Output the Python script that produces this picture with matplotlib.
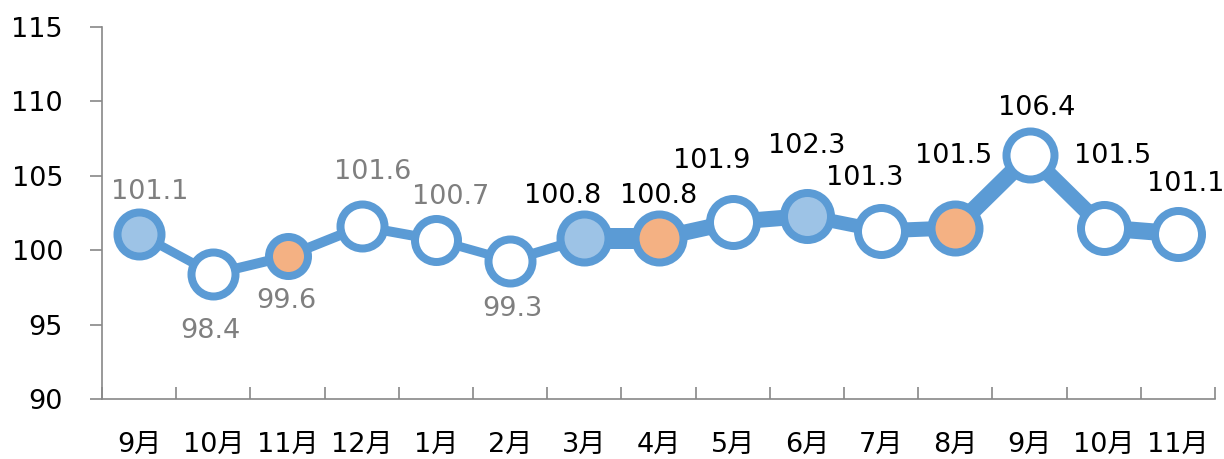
import matplotlib.pyplot as plt
from matplotlib.ticker import FixedLocator

# data
months = ["9月", "10月", "11月", "12月", "1月", "2月", "3月", "4月",
          "5月", "6月", "7月", "8月", "9月", "10月", "11月"]
values = [101.1, 98.4, 99.6, 101.6, 100.7, 99.3, 100.8, 100.8,
          101.9, 102.3, 101.3, 101.5, 106.4, 101.5, 101.1]
# which markers are filled: 0 = white, 1 = light blue, 2 = orange
highlight = [1, 0, 2, 0, 0, 0, 1, 2, 0, 1, 0, 2, 0, 0, 0]

# styling
BLUE = "#5B9BD5"
FILLS = {0: "white", 1: "#9DC3E6", 2: "#F4B183"}
PX = 0.72  # points per pixel at dpi 100
seg_width_px = [9, 10, 10, 10, 9, 10, 21, 16, 16, 14, 15, 17, 16, 17]
marker_outer_px = [52, 52, 47, 52, 51, 52, 56, 56, 55, 55, 55, 56, 56, 55, 55]
edge_px = 8
# label offsets in pixels (dx, dy) from the marker centre
label_offsets = [(11, 42), (-3, -57), (-1, -45), (11, 54), (15, 43), (2, -48),
                 (-22, 42), (0, 42), (-21, 61), (0, 70), (-16, 53), (-2, 72),
                 (7, 47), (9, 72), (8, 50)]

plt.rcParams['font.family'] = ['DejaVu Sans', 'Noto Sans CJK JP']
FS = 19.5

fig = plt.figure(figsize=(12.24, 4.59), dpi=100)
ax = fig.add_axes([102 / 1224, 1 - 399 / 459, (1215 - 102) / 1224, (399 - 27) / 459])

x = list(range(len(values)))

# line segments with varying width
for i in range(len(values) - 1):
    ax.plot(x[i:i + 2], values[i:i + 2], color=BLUE,
            linewidth=seg_width_px[i] * PX, solid_capstyle="butt", zorder=2)

# markers
for i, v in enumerate(values):
    ax.plot(x[i], v, marker="o", linestyle="none",
            markersize=(marker_outer_px[i] - edge_px) * PX,
            markeredgewidth=edge_px * PX, markeredgecolor=BLUE,
            markerfacecolor=FILLS[highlight[i]], zorder=3)

# data labels
for i, v in enumerate(values):
    dx, dy = label_offsets[i]
    ax.annotate(f"{v:.1f}", (x[i], v), xytext=(dx, dy), textcoords="offset pixels",
                ha="center", va="center", fontsize=FS,
                color="#7F7F7F" if i < 6 else "black", zorder=4)

ax.set_xlim(-0.5, len(values) - 0.5)
ax.set_ylim(90, 115)
ax.set_yticks([90, 95, 100, 105, 110, 115])
ax.tick_params(axis="y", direction="out", length=9, width=1.2, color="#888888",
               labelsize=FS, pad=19)

# x: ticks at category boundaries, labels at centres
ax.xaxis.set_major_locator(FixedLocator([i - 0.5 for i in range(len(values) + 1)]))
ax.xaxis.set_major_formatter(plt.NullFormatter())
ax.xaxis.set_minor_locator(FixedLocator(x))
ax.set_xticklabels(months, minor=True)
ax.tick_params(axis="x", which="major", direction="in", length=9, width=1.2, color="#888888")
ax.tick_params(axis="x", which="minor", length=0, labelsize=FS, pad=24)

for side in ["top", "right"]:
    ax.spines[side].set_visible(False)
for side in ["left", "bottom"]:
    ax.spines[side].set_color("#888888")
    ax.spines[side].set_linewidth(1.2)

plt.savefig("out.png", dpi=100)
